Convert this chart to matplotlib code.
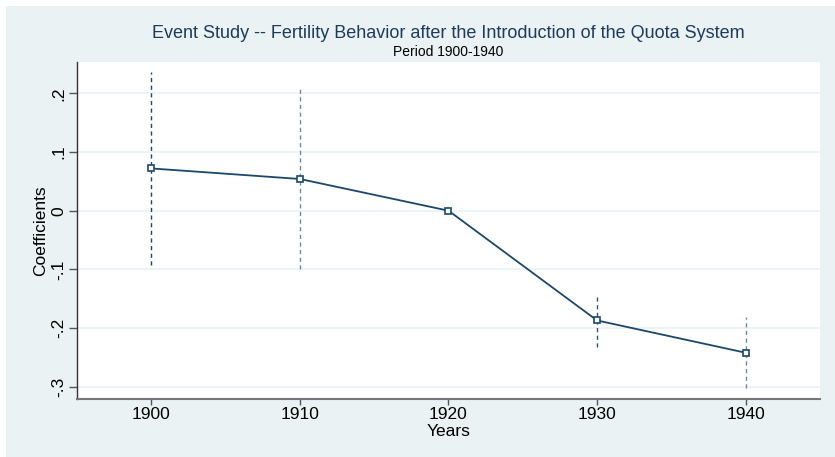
import matplotlib
matplotlib.use("Agg")
import matplotlib.pyplot as plt
from matplotlib.patches import Rectangle

plt.rcParams['font.family'] = ['Liberation Sans', 'DejaVu Sans']

# data
years = [1900, 1910, 1920, 1930, 1940]
coefs = [0.072, 0.054, 0.0, -0.187, -0.242]
ci_low = [-0.0925, -0.100, None, -0.2317, -0.3026]
ci_high = [0.2368, 0.2068, None, -0.1436, -0.1817]
ci_colors = ['#1a476f', '#6d8aab', None, '#2f5479', '#6d8aab']
yticks = [0.2, 0.1, 0.0, -0.1, -0.2, -0.3]
ytick_labels = ['.2', '.1', '0', '-.1', '-.2', '-.3']

navy = '#1a476f'
bg = '#eaf2f3'

W, H = 835, 457
fig = plt.figure(figsize=(W / 100, H / 100), dpi=100, facecolor='white')
fig.patches.append(Rectangle((6 / W, 0), 1 - 6 / W, 1 - 6 / H,
                             transform=fig.transFigure, facecolor=bg,
                             edgecolor='none', zorder=-5))

ax = fig.add_axes([77 / W, (H - 399) / H, (820 - 77) / W, (399 - 62) / H])
ax.set_facecolor('white')

# confidence intervals as dashed vertical lines
for x, lo, hi, c in zip(years, ci_low, ci_high, ci_colors):
    if lo is None:
        continue
    ax.plot([x, x], [lo, hi], color=c, lw=1.0, ls=(0, (3, 2.5)), zorder=2)

ax.plot(years, coefs, color=navy, lw=1.3, marker='s', ms=4.5,
        mfc='white', mec=navy, mew=1.2, zorder=3)

ax.set_xlim(1895, 1945)
ax.set_ylim(-0.3208, 0.2533)
ax.set_xticks(years)
ax.set_xticklabels([str(y) for y in years], fontsize=12.5)
ax.set_yticks(yticks)
ax.set_yticklabels(ytick_labels, fontsize=12.5, rotation=90, va='center')

ax.grid(axis='y', color=bg, lw=1.2)
ax.set_axisbelow(True)
for s in ['top', 'right']:
    ax.spines[s].set_visible(False)
ax.spines['left'].set_color('#333333')
ax.spines['bottom'].set_color('#777777')
ax.spines['left'].set_linewidth(1.0)
ax.spines['bottom'].set_linewidth(1.5)
ax.tick_params(axis='x', length=4, width=1.0, color='#555555', pad=2)
ax.tick_params(axis='y', length=6, width=1.0, color='#555555', pad=2)

ax.set_xlabel('Years', fontsize=12.5, va='center')
ax.xaxis.set_label_coords(0.5, (399 - 432) / 337)
ax.set_ylabel('Coefficients', fontsize=12.5, va='center')
ax.yaxis.set_label_coords((41 - 77) / 743, 0.5)

fig.text(448.5 / W, 1 - 33 / H, 'Event Study -- Fertility Behavior after the Introduction of the Quota System',
         ha='center', va='center', fontsize=13, color='#1e3a5f')
fig.text(448.5 / W, 1 - 52 / H, 'Period 1900-1940', ha='center', va='center',
         fontsize=10, color='black')

fig.savefig('out.png', dpi=100, facecolor=fig.get_facecolor())
